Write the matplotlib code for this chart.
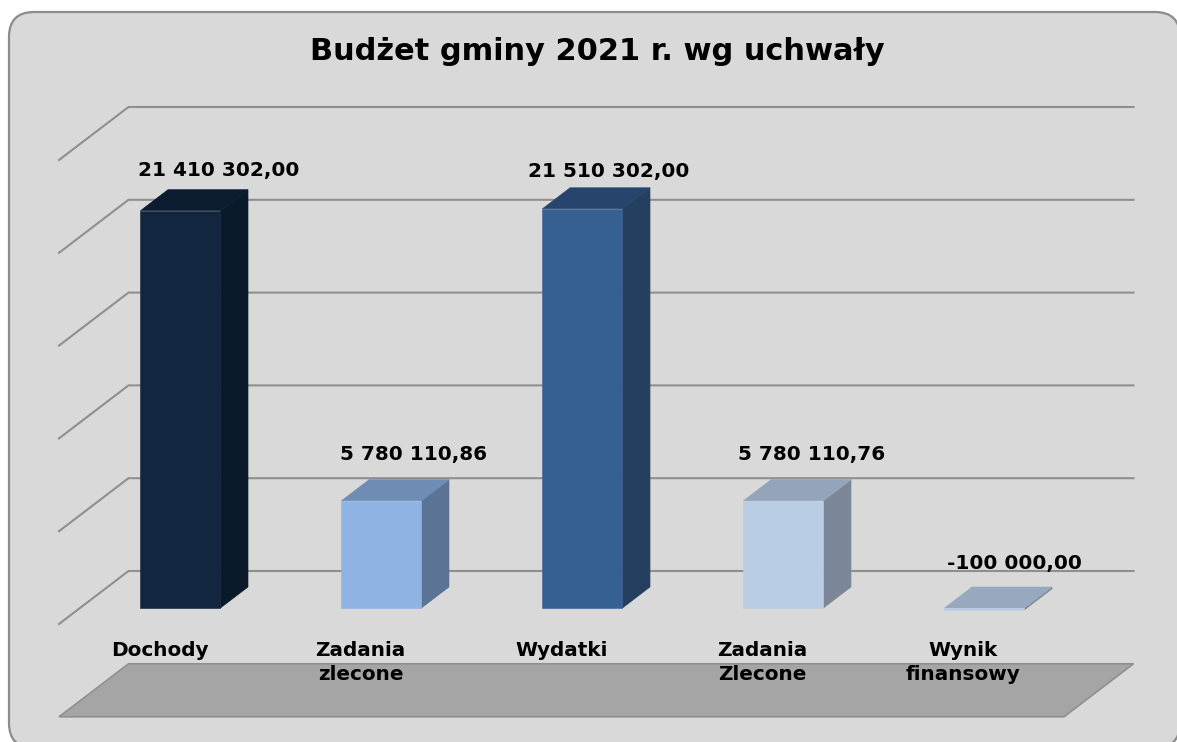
import matplotlib
matplotlib.use("Agg")
import matplotlib.pyplot as plt
from matplotlib.patches import FancyBboxPatch, Polygon

title = "Budżet gminy 2021 r. wg uchwały"
categories = ["Dochody", "Zadania\nzlecone", "Wydatki", "Zadania\nZlecone", "Wynik\nfinansowy"]
values = [21410302.00, 5780110.86, 21510302.00, 5780110.76, -100000.00]
value_labels = ["21 410 302,00", "5 780 110,86", "21 510 302,00", "5 780 110,76", "-100 000,00"]
grid_values = [0, 5e6, 10e6, 15e6, 20e6, 25e6]
floor_value = -5e6

front_colors = ["#12263f", "#8fb3e3", "#376092", "#b9cde5", "#b9cde5"]
side_colors = ["#0b1a2b", "#5b7394", "#243f60", "#7b8799", "#7b8799"]
top_colors = ["#0c1c30", "#6f8cb5", "#27456c", "#94a5bb", "#98a9bf"]

W, H = 1177, 742
PX_X = 201.0            # pixels per category
PX_Y = 18.56 / 1e6      # pixels per unit of value
X0, Y0 = 59.0, 624.0    # pixel of category 0 / value 0 on the front plane
DEPTH_X = 69.5 / PX_X   # full-depth shift along x, in categories
DEPTH_Y = 53.0 / PX_Y   # full-depth shift along y, in value units
BAR_W = 80.0 / PX_X
D1, D2 = 16.0 / 53.0, 37.0 / 53.0   # bar front and back depth fractions
GRID = "#8f8f8f"

fig = plt.figure(figsize=(W / 100, H / 100), dpi=100, facecolor="white")

bg = fig.add_axes([0, 0, 1, 1])
bg.set_xlim(0, W)
bg.set_ylim(H, 0)
bg.axis("off")
bg.add_patch(FancyBboxPatch((34, 37), 1121, 686, boxstyle="round,pad=25,rounding_size=25",
                            facecolor="#d9d9d9", edgecolor="#8c8c8c", linewidth=1.6))

ax = fig.add_axes([0, 0, 1, 1])
ax.patch.set_alpha(0)
ax.set_xlim(-X0 / PX_X, (W - X0) / PX_X)
ax.set_ylim(-(H - Y0) / PX_Y, Y0 / PX_Y)
ax.axis("off")


def proj(x, v, d):
    return (x + d * DEPTH_X, v + d * DEPTH_Y)


n = len(categories)
for g in grid_values:
    pts = [proj(0, g, 0), proj(0, g, 1), proj(n, g, 1)]
    ax.plot(*zip(*pts), color=GRID, linewidth=1.5, zorder=1, solid_joinstyle="miter")

ax.add_patch(Polygon([proj(0, floor_value, 0), proj(0, floor_value, 1),
                      proj(n, floor_value, 1), proj(n, floor_value, 0)],
                     closed=True, facecolor="#a5a5a5", edgecolor=GRID, linewidth=1.2, zorder=1))

for i, v in enumerate(values):
    xc = i + 0.5 + D1 * DEPTH_X
    xl = xc - BAR_W / 2 - D1 * DEPTH_X
    xr = xl + BAR_W
    hi, lo = max(v, 0), min(v, 0)
    ax.add_patch(Polygon([proj(xr, lo, D1), proj(xr, lo, D2), proj(xr, hi, D2), proj(xr, hi, D1)],
                         closed=True, facecolor=side_colors[i], edgecolor=side_colors[i], linewidth=0.4, zorder=2))
    ax.add_patch(Polygon([proj(xl, hi, D1), proj(xl, hi, D2), proj(xr, hi, D2), proj(xr, hi, D1)],
                         closed=True, facecolor=top_colors[i], edgecolor=top_colors[i], linewidth=0.4, zorder=2))
    ax.add_patch(Polygon([proj(xl, lo, D1), proj(xl, hi, D1), proj(xr, hi, D1), proj(xr, lo, D1)],
                         closed=True, facecolor=front_colors[i], edgecolor=front_colors[i], linewidth=0.4, zorder=3))

label_dx = [38, 32, 26, 28, 30]   # label offset from bar centre, pixels
label_dy = [19, 25, 16, 25, 23]   # label offset above bar back edge, pixels
for i, (v, s) in enumerate(zip(values, value_labels)):
    x, y = proj(i + 0.5, max(v, 0), D2)
    x = i + 0.5 + D1 * DEPTH_X + label_dx[i] / PX_X
    ax.text(x, y + label_dy[i] / PX_Y, s, ha="center", va="center", fontsize=14.4,
            fontweight="bold", family="DejaVu Sans", color="black", zorder=5)

for i, c in enumerate(categories):
    ax.text(i + 0.5, -(641 - Y0) / PX_Y, c, ha="center", va="top", fontsize=14.4,
            fontweight="bold", family="DejaVu Sans", color="black", zorder=5, linespacing=1.32)

bg.text(597, 52, title, ha="center", va="center", fontsize=21.9, fontweight="bold",
        family="DejaVu Sans", color="black")

fig.savefig("out.png", dpi=100, facecolor="white")
